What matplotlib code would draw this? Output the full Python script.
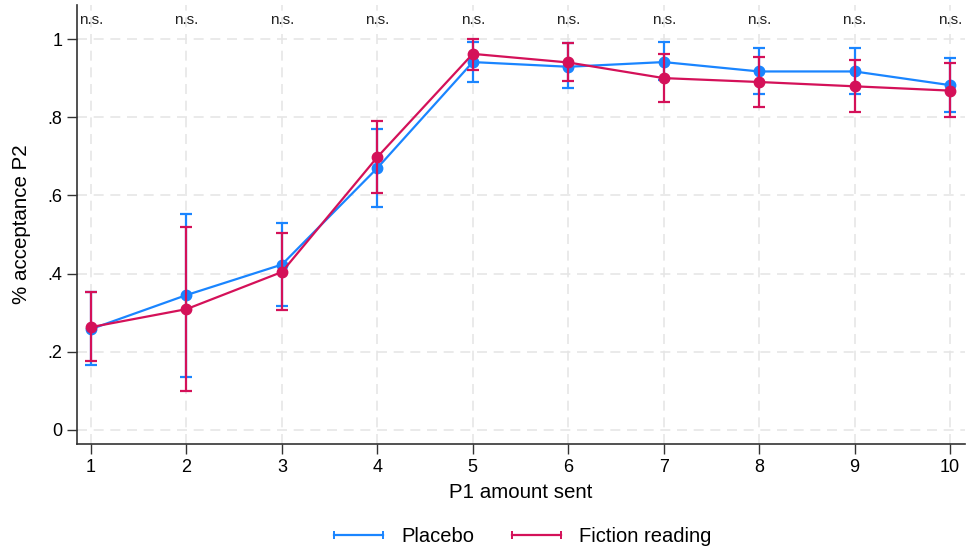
import matplotlib
matplotlib.use("Agg")
import matplotlib.pyplot as plt
from matplotlib.lines import Line2D
import numpy as np

plt.rcParams['font.family'] = ['Liberation Sans', 'DejaVu Sans']

amounts = [1, 2, 3, 4, 5, 6, 7, 8, 9, 10]
placebo_mean = [0.258, 0.345, 0.423, 0.670, 0.941, 0.929, 0.941, 0.917, 0.917, 0.882]
placebo_lo = [0.165, 0.136, 0.317, 0.570, 0.890, 0.875, 0.895, 0.859, 0.859, 0.813]
placebo_hi = [0.352, 0.552, 0.530, 0.770, 0.992, 0.990, 0.992, 0.977, 0.977, 0.951]
fiction_mean = [0.263, 0.309, 0.404, 0.698, 0.962, 0.940, 0.900, 0.890, 0.879, 0.868]
fiction_lo = [0.176, 0.100, 0.307, 0.606, 0.920, 0.893, 0.839, 0.826, 0.813, 0.800]
fiction_hi = [0.352, 0.520, 0.504, 0.790, 1.000, 0.990, 0.962, 0.954, 0.946, 0.939]
sig_labels = ["n.s."] * 10
ytick_vals = [0, 0.2, 0.4, 0.6, 0.8, 1.0]
ytick_labels = ["0", ".2", ".4", ".6", ".8", "1"]

blue = "#1A85FF"
red = "#D41159"

fig = plt.figure(figsize=(9.66, 5.52), dpi=100)
ax = fig.add_axes([77/966, 1-444/552, (965-77)/966, (444-5)/552])

def draw(mean, lo, hi, color, z):
    mean = np.array(mean); lo = np.array(lo); hi = np.array(hi)
    ax.errorbar(amounts, mean, yerr=[mean - lo, hi - mean], color=color,
                ecolor=color, elinewidth=1.6, capsize=4, capthick=1.6,
                lw=1.6, marker='o', ms=7.5, zorder=z)

draw(placebo_mean, placebo_lo, placebo_hi, blue, 3)
draw(fiction_mean, fiction_lo, fiction_hi, red, 4)

for x, s in zip(amounts, sig_labels):
    ax.text(x, 1.049, s, ha='center', va='center', fontsize=11, color='#222222')

ax.set_xlim(0.853, 10.157)
ax.set_ylim(-0.036, 1.087)
ax.set_xticks(amounts)
ax.set_yticks(ytick_vals)
ax.set_yticklabels(ytick_labels)
ax.tick_params(axis='both', labelsize=13, length=7, width=1, direction='out',
               colors='#333333', labelcolor='black', pad=3.5)
ax.grid(True, color='#e6e6e6', linestyle=(0, (6, 4)), linewidth=1.2)
ax.set_axisbelow(True)
for s in ['top', 'right']:
    ax.spines[s].set_visible(False)
for s in ['left', 'bottom']:
    ax.spines[s].set_linewidth(1.2)
    ax.spines[s].set_color('#333333')

ax.set_xlabel("P1 amount sent", fontsize=14.8, labelpad=5)
ax.set_ylabel("% acceptance P2", fontsize=14.8, labelpad=12)

handles = [Line2D([0], [0], color=blue, lw=1.6, marker='|', ms=6, mew=1.4),
           Line2D([0], [0], color=red, lw=1.6, marker='|', ms=6, mew=1.4)]
fig.legend(handles, ["Placebo", "Fiction reading"], loc='center',
           bbox_to_anchor=(0.538, 1-537/552), ncol=2, frameon=False,
           fontsize=14.5, numpoints=2, handlelength=3.0, handletextpad=0.6,
           columnspacing=1.6)

fig.savefig("out.png", dpi=100)
